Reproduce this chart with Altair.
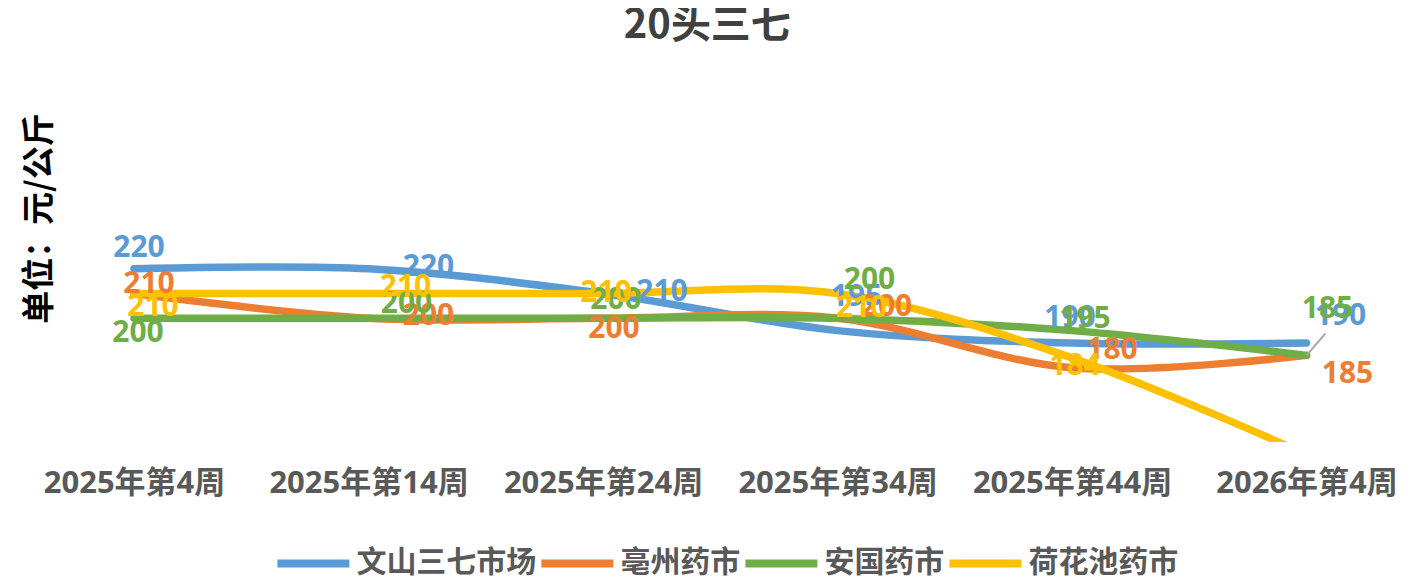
import altair as alt
import pandas as pd

# ---- data ----
CATEGORIES = ["2025年第4周", "2025年第14周", "2025年第24周",
              "2025年第34周", "2025年第44周", "2026年第4周"]
SERIES = ["文山三七市场", "亳州药市", "安国药市", "荷花池药市"]
WENSHAN = [220, 220, 210, 195, 190, 190]
BOZHOU = [210, 200, 200, 200, 180, 185]
ANGUO = [200, 200, 200, 200, 195, 185]
HEHUACHI = [210, 210, 210, 210, 184, 145]
VALUES = [WENSHAN, BOZHOU, ANGUO, HEHUACHI]

# ---- styling ----
COLORS = ["#5B9BD5", "#ED7D31", "#70AD47", "#FFC000"]
Y_MIN, Y_MAX = 150, 250
# data-label offsets (pixels, relative to each point), as placed in the original
LABEL_DX = [
    [5, 60, 59, 19, -2, 34],
    [15, 60, 11, 49, 40, 41],
    [4, 38, 13, 32, 13, 21],
    [19, 37, 3, 24, 3, 0],
]
LABEL_DY = [
    [-21, -2, -1, -34, -25, -27],
    [-10, -2, 11, -11, -18, 19],
    [15, -14, -18, -38, -12, -46],
    [14, -6, 0, 15, 8, 0],
]

FONT = "Noto Sans CJK SC"
NUM_FONT = "Open Sans"

rows = []
for si, name in enumerate(SERIES):
    for ci, cat in enumerate(CATEGORIES):
        rows.append({
            "cat": cat, "series": name, "v": VALUES[si][ci],
            "order": si, "ldx": LABEL_DX[si][ci], "ldy": LABEL_DY[si][ci],
        })
df = pd.DataFrame(rows)

x_enc = alt.X("cat:N", sort=CATEGORIES,
              scale=alt.Scale(type="point", padding=0.25),
              axis=alt.Axis(title=None, labelAngle=0, ticks=False, domain=False,
                            grid=False, labelFontSize=31, labelFontWeight="bold",
                            labelColor="#595959", labelFont=f"{NUM_FONT}, {FONT}",
                            labelPadding=27, labelLimit=0))
y_enc = alt.Y("v:Q", scale=alt.Scale(domain=[Y_MIN, Y_MAX], nice=False, zero=False),
              axis=alt.Axis(title="单位：元/公斤", labels=False, ticks=False,
                            domain=False, grid=False, titleFontSize=33,
                            titleFontWeight="bold", titleColor="#000000",
                            titleFont=FONT, titleX=-36, titleY=23.5,
                            titleBaseline="middle", titleAlign="center",
                            titleAngle=270))
color_enc = alt.Color("series:N", sort=SERIES,
                      scale=alt.Scale(domain=SERIES, range=COLORS),
                      legend=alt.Legend(title=None, orient="none", direction="horizontal",
                                        legendX=198, legendY=329,
                                        symbolType="stroke", symbolSize=5184,
                                        symbolStrokeWidth=8, labelFontSize=30,
                                        labelFontWeight="bold", labelColor="#595959",
                                        labelFont=FONT, labelOffset=3, labelLimit=0,
                                        columnPadding=-11))

base = alt.Chart(df)

lines = base.mark_line(strokeWidth=7.5, interpolate="cardinal", clip=True,
                       strokeCap="round").encode(
    x=x_enc, y=y_enc, color=color_enc, order="order:Q",
    detail="series:N",
)

labels = base.mark_text(fontSize=30, fontWeight="bold", font=NUM_FONT,
                        align="center", baseline="middle",
                        dx=alt.expr("datum.ldx"), dy=alt.expr("datum.ldy")).encode(
    x=alt.X("cat:N", sort=CATEGORIES),
    y=alt.Y("v:Q"),
    text=alt.Text("v:Q"),
    color=alt.Color("series:N", sort=SERIES, legend=None),
).transform_filter(alt.datum.v >= Y_MIN)

leader = base.mark_rule(color="#A6A6A6", strokeWidth=2, x2Offset=19,
                        y2Offset=-22).encode(
    x=alt.X("cat:N", sort=CATEGORIES),
    y=alt.Y("v:Q"),
    x2=alt.X2("cat:N"),
    y2=alt.Y2("v:Q"),
).transform_filter(
    (alt.datum.series == SERIES[2]) & (alt.datum.cat == CATEGORIES[-1])
)

chart = alt.layer(lines, leader, labels).properties(
    width=1289.75,
    height=247.5,
    background="white",
    title=alt.TitleParams("20头三七", fontSize=40, font=FONT, fontWeight="bold",
                          color="#404040", anchor="middle", baseline="middle",
                          offset=47, dx=-13),
    autosize=alt.AutoSizeParams(type="none"),
    padding={"left": 67.4, "top": 186.5, "right": 45, "bottom": 134},
).configure_view(stroke=None)

chart.save("out.html", embed_options={"renderer": "svg", "actions": False})
